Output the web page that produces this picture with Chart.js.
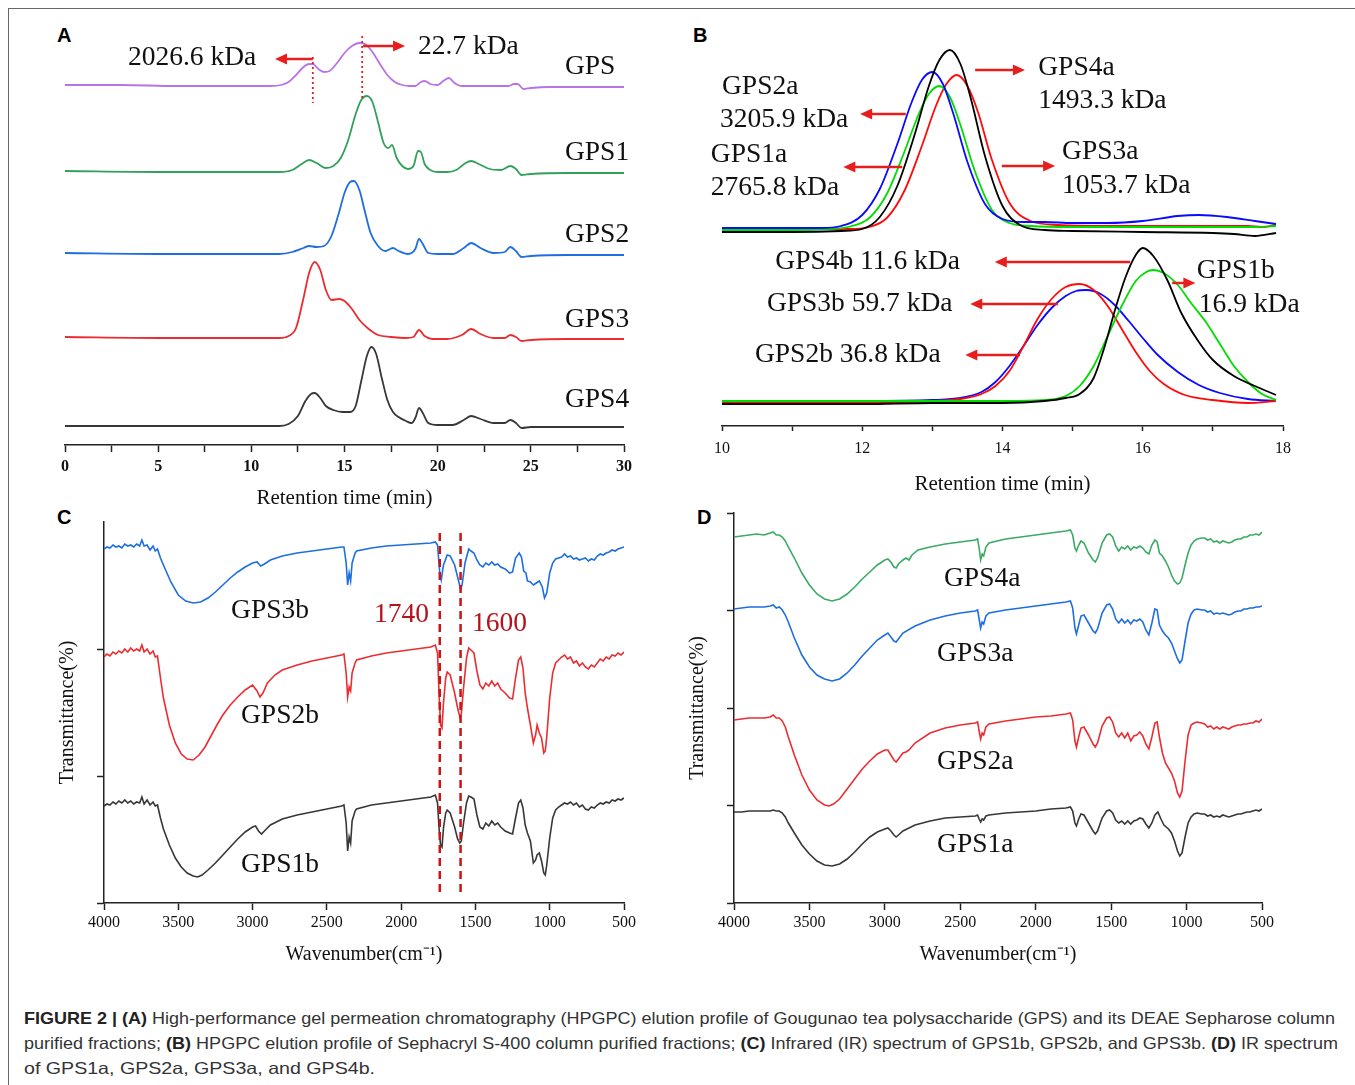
<!DOCTYPE html>
<html>
<head>
<meta charset="utf-8">
<title>Figure 2</title>
<script src="https://cdn.jsdelivr.net/npm/chart.js@4.4.1/dist/chart.umd.min.js"></script>
<style>
  html, body { margin: 0; padding: 0; background: #fff; }
  body { width: 1355px; height: 1085px; position: relative; overflow: hidden; font-family: "Liberation Sans", Arial, sans-serif; }
  .frame { position: absolute; left: 8px; top: 8px; width: 1400px; height: 1200px; border-left: 1px solid #666; border-top: 1px solid #666; }
  canvas { position: absolute; }
  .panel { position: absolute; font: bold 20px/20px "Liberation Sans", Arial, sans-serif; color: #000; }
  .caption { position: absolute; left: 24px; top: 1006px; font-size: 16.5px; line-height: 25px; color: #333; }
  .caption span { display: block; white-space: nowrap; width: max-content; transform-origin: 0 50%; }
  .caption b { color: #222; }
</style>
</head>
<body>
<div class="frame"></div>
<div class="panel" style="left:57px;top:25px">A</div>
<div class="panel" style="left:693px;top:25px">B</div>
<div class="panel" style="left:57px;top:507px">C</div>
<div class="panel" style="left:697px;top:507px">D</div>

<canvas id="chartA" width="610" height="505" style="left:40px;top:10px"></canvas>
<canvas id="chartB" width="640" height="490" style="left:690px;top:10px"></canvas>
<canvas id="chartC" width="610" height="480" style="left:40px;top:505px"></canvas>
<canvas id="chartD" width="620" height="480" style="left:670px;top:505px"></canvas>

<div class="caption">
  <span data-w="1311"><b>FIGURE 2 | (A)</b> High-performance gel permeation chromatography (HPGPC) elution profile of Gougunao tea polysaccharide (GPS) and its DEAE Sepharose column</span>
  <span data-w="1314">purified fractions; <b>(B)</b> HPGPC elution profile of Sephacryl S-400 column purified fractions; <b>(C)</b> Infrared (IR) spectrum of GPS1b, GPS2b, and GPS3b. <b>(D)</b> IR spectrum</span>
  <span data-w="351">of GPS1a, GPS2a, GPS3a, and GPS4b.</span>
</div>

<script>
/* global Chart */

// ---- A: HPGPC of GPS and DEAE fractions, [time (min), signal above baseline]
const namesA = ['GPS', 'GPS1', 'GPS2', 'GPS3', 'GPS4'];
const offsetsA = [359, 273, 191, 107, 19];
const gpsA = [[0,1],[3,1],[6,0],[9,0],[11,0],[11.6,1],[12.0,4],[12.4,11],[12.8,19],[13.1,22],[13.3,22],[13.6,17],[13.9,14],[14.2,15],[14.6,23],[15.0,33],[15.4,40],[15.8,43],[16.1,42],[16.5,34],[16.9,22],[17.3,11],[17.7,4],[18.1,1],[18.5,0],[18.8,0],[19.1,4],[19.3,5],[19.6,2],[20.0,1],[20.3,5],[20.6,8],[20.9,3],[21.3,0],[22,0],[23,0],[23.8,0],[24.1,2],[24.3,2],[24.6,-3],[25.0,-2],[26,-1],[28,-1],[30,-1]];
const gps1A = [[0,1],[5,0],[10,0],[11.5,0],[12.2,2],[12.7,8],[13.1,12],[13.5,9],[14.0,4],[14.4,6],[14.8,14],[15.2,32],[15.6,58],[15.9,72],[16.2,76],[16.5,70],[16.8,50],[17.1,29],[17.35,24],[17.55,27],[17.8,14],[18.1,6],[18.4,3],[18.7,6],[18.95,21],[19.1,20],[19.3,8],[19.6,2],[20.0,0],[20.5,0],[21.0,2],[21.5,9],[21.8,11],[22.2,8],[22.8,3],[23.4,2],[23.9,6],[24.2,3],[24.5,-3],[25,-2],[27,-1],[30,-1]];
const gps2A = [[0,1],[5,0],[10,0],[11.5,0],[12.2,2],[12.8,6],[13.1,8],[13.5,7],[13.9,8],[14.3,18],[14.7,41],[15.0,61],[15.3,72],[15.5,73],[15.8,64],[16.1,42],[16.4,21],[16.8,8],[17.2,3],[17.6,6],[17.9,3],[18.4,0],[18.8,5],[19.0,15],[19.2,10],[19.5,1],[20,0],[20.8,0],[21.4,6],[21.8,11],[22.3,6],[23,1],[23.6,2],[23.9,7],[24.2,3],[24.5,-3],[25,-2],[27,-1],[30,-1]];
const gps3A = [[0,1],[5,0],[10,0],[11.5,0],[12.0,2],[12.4,10],[12.8,40],[13.1,65],[13.4,76],[13.7,68],[14.0,48],[14.3,38],[14.7,39],[15.0,37],[15.4,29],[15.8,18],[16.3,9],[16.8,3],[17.5,1],[18.3,0],[18.7,1],[19.0,8],[19.3,2],[19.7,-1],[20.5,-1],[21.3,3],[21.8,9],[22.3,4],[23,0],[23.6,0],[23.9,3],[24.2,1],[24.5,-3],[25,-2],[27,-1],[30,-1]];
const gps4A = [[0,0],[5,0],[10,0],[11.5,0],[12.0,2],[12.5,10],[12.9,25],[13.2,32],[13.4,33],[13.7,28],[14.0,20],[14.4,16],[14.9,14],[15.3,14],[15.6,20],[15.9,45],[16.2,70],[16.45,79],[16.7,72],[17.0,48],[17.3,26],[17.6,14],[17.9,9],[18.3,5],[18.6,3],[18.8,8],[19.0,18],[19.2,13],[19.5,3],[20,1],[20.8,1],[21.4,6],[21.8,10],[22.3,7],[23,3],[23.6,3],[23.9,6],[24.2,3],[24.5,-2],[25,-1],[27,-1],[30,-1]];
const seriesA = [gpsA, gps1A, gps2A, gps3A, gps4A];
const colorsA = ['rgb(185,115,230)', 'rgb(50,160,90)', 'rgb(30,110,225)', 'rgb(235,45,50)', 'rgb(55,55,55)'];

// ---- B: Sephacryl S-400 fractions, [time (min), signal]
const namesB = ['GPS4a', 'GPS2a', 'GPS1a', 'GPS3a', 'GPS4b', 'GPS1b', 'GPS3b', 'GPS2b'];
const gps4aB = [[10,194],[11,194],[11.7,195],[12.0,197],[12.25,209],[12.5,240],[12.75,292],[12.95,340],[13.1,366],[13.25,376],[13.4,362],[13.55,327],[13.75,270],[14.0,220],[14.25,201],[14.6,196],[15,195],[16,194],[17,193],[17.3,192],[17.6,190],[17.9,193]];
const gps2aB = [[10,198],[11,198],[11.4,198],[11.7,200],[12.0,211],[12.25,237],[12.5,282],[12.7,323],[12.85,346],[13.0,354],[13.15,342],[13.3,312],[13.5,264],[13.75,222],[14.0,207],[14.3,204],[14.6,204],[15,203],[15.5,203],[16,205],[16.5,210],[16.8,211],[17.2,209],[17.6,205],[17.9,202]];
const gps1aB = [[10,196],[11,196],[11.5,197],[11.8,199],[12.1,208],[12.35,232],[12.6,274],[12.8,311],[12.95,332],[13.1,340],[13.25,329],[13.4,301],[13.6,256],[13.85,216],[14.1,203],[14.4,200],[15,199],[16,199],[17,199],[17.6,199],[17.9,200]];
const gps3aB = [[10,197],[11,197],[11.8,197],[12.1,199],[12.35,208],[12.6,235],[12.85,280],[13.05,320],[13.2,342],[13.35,351],[13.5,340],[13.65,314],[13.85,266],[14.1,223],[14.4,205],[14.8,201],[15.5,200],[16.5,200],[17.5,200],[17.7,199],[17.9,201]];
const gps4bB = [[10,22],[12,22],[13,23],[14,23],[14.6,25],[14.9,28],[15.1,32],[15.3,48],[15.45,78],[15.6,115],[15.75,148],[15.9,171],[16.0,178],[16.15,170],[16.35,146],[16.55,113],[16.8,84],[17.0,66],[17.3,50],[17.6,40],[17.9,31]];
const gps1bB = [[10,25],[13,25],[14,25],[14.6,26],[14.9,30],[15.1,40],[15.3,60],[15.5,90],[15.7,120],[15.9,145],[16.05,154],[16.15,156],[16.3,153],[16.5,141],[16.7,122],[16.9,104],[17.1,82],[17.3,60],[17.5,44],[17.7,32],[17.9,26]];
const gps3bB = [[10,24],[12,24],[13,25],[13.4,27],[13.7,32],[13.9,40],[14.1,55],[14.3,80],[14.5,107],[14.7,127],[14.9,139],[15.1,142],[15.3,136],[15.5,120],[15.7,97],[15.9,74],[16.1,55],[16.3,42],[16.6,31],[17.0,26],[17.5,23],[17.9,25]];
const gps2bB = [[10,25],[12,25],[13,26],[13.4,28],[13.7,34],[13.9,44],[14.1,60],[14.3,80],[14.5,101],[14.7,118],[14.9,130],[15.05,135],[15.2,136],[15.4,132],[15.6,121],[15.8,105],[16.0,88],[16.2,72],[16.5,54],[16.8,41],[17.1,33],[17.5,27],[17.9,25]];
const seriesB = [gps4aB, gps2aB, gps1aB, gps3aB, gps4bB, gps1bB, gps3bB, gps2bB];
const colorsB = ['#000000', '#0a0aff', '#00dd00', '#ff0a0a', '#000000', '#00dd00', '#ff0a0a', '#0a0aff'];

// ---- C: IR of GPS1b, GPS2b, GPS3b, [wavenumber, transmittance offset]
const namesC = ['GPS3b', 'GPS2b', 'GPS1b'];
const gps3bIR = [[4000,354],[3980,356],[3960,355],[3940,358],[3920,356],[3900,357],[3880,355],[3860,359],[3840,357],[3820,358],[3800,356],[3780,359],[3760,357],[3745,363],[3730,357],[3710,358],[3690,353],[3670,357],[3655,352],[3640,354],[3620,345],[3600,338],[3550,321],[3500,308],[3450,302],[3400,300],[3350,301],[3300,305],[3250,311],[3200,318],[3150,325],[3100,331],[3050,336],[3000,340],[2970,341],[2945,337],[2920,339],[2880,343],[2800,347],[2700,350],[2600,352],[2500,354],[2400,356],[2385,356],[2370,340],[2360,318],[2350,330],[2340,322],[2330,340],[2310,350],[2300,352],[2200,355],[2100,357],[2000,358],[1900,359],[1800,360],[1770,361],[1755,358],[1740,330],[1730,323],[1715,338],[1690,348],[1670,347],[1640,338],[1620,326],[1600,314],[1590,318],[1570,340],[1545,354],[1530,352],[1510,350],[1490,343],[1470,338],[1450,336],[1430,340],[1410,338],[1390,341],[1370,338],[1350,339],[1330,336],[1300,334],[1270,330],[1250,331],[1230,345],[1205,350],[1190,346],[1175,332],[1160,330],[1150,322],[1130,321],[1110,318],[1090,320],[1070,322],[1050,316],[1035,305],[1020,310],[1000,330],[980,340],[960,344],[940,345],[920,346],[900,349],[880,346],[860,347],[840,344],[820,345],[800,343],[780,344],[760,345],[740,342],[720,344],[700,343],[680,347],[660,349],[640,348],[620,350],[600,351],[580,353],[560,352],[540,354],[520,355],[500,356]];
const gps2bIR = [[4000,246],[3980,249],[3960,247],[3940,251],[3920,249],[3900,252],[3880,250],[3860,254],[3840,251],[3820,255],[3800,252],[3780,254],[3760,252],[3745,258],[3730,251],[3710,254],[3690,249],[3670,252],[3655,246],[3640,247],[3620,225],[3600,205],[3560,178],[3520,160],[3480,149],[3440,144],[3400,143],[3360,148],[3320,156],[3280,167],[3240,178],[3200,188],[3150,198],[3100,206],[3050,213],[3000,218],[2970,212],[2950,206],[2930,210],[2900,220],[2850,228],[2800,233],[2700,238],[2600,242],[2500,245],[2400,248],[2385,249],[2370,230],[2360,206],[2350,216],[2340,212],[2330,230],[2310,240],[2300,243],[2200,247],[2100,250],[2000,252],[1900,254],[1800,256],[1770,258],[1755,250],[1745,210],[1735,178],[1725,175],[1715,200],[1700,225],[1690,231],[1670,228],[1640,210],[1620,195],[1605,186],[1595,189],[1580,215],[1560,245],[1545,255],[1530,253],[1510,250],[1490,232],[1470,218],[1450,214],[1430,220],[1410,217],[1390,222],[1370,217],[1350,220],[1330,214],[1300,210],[1270,205],[1250,204],[1230,225],[1210,243],[1195,246],[1180,235],[1165,210],[1150,195],[1130,178],[1110,160],[1095,168],[1085,178],[1070,170],[1055,165],[1040,150],[1030,152],[1020,166],[1000,205],[980,230],[960,240],[940,243],[920,246],[900,248],[880,244],[860,246],[840,240],[820,242],[800,237],[780,240],[760,236],[740,234],[720,238],[700,236],[680,240],[660,244],[640,242],[620,246],[600,244],[580,248],[560,247],[540,250],[520,248],[500,251]];
const gps1bIR = [[4000,97],[3980,99],[3960,98],[3940,101],[3920,99],[3900,102],[3880,100],[3860,103],[3840,100],[3820,102],[3800,99],[3780,101],[3760,100],[3745,106],[3730,99],[3710,103],[3690,98],[3670,101],[3655,97],[3640,98],[3620,85],[3600,74],[3560,58],[3520,45],[3480,36],[3440,30],[3400,27],[3370,26],[3340,28],[3300,33],[3250,40],[3200,48],[3150,56],[3100,64],[3050,71],[3000,76],[2980,77],[2960,72],[2940,69],[2920,72],[2880,78],[2800,84],[2700,88],[2600,91],[2500,94],[2400,97],[2385,98],[2370,80],[2360,52],[2350,66],[2340,60],[2330,82],[2310,92],[2300,94],[2200,98],[2100,100],[2000,102],[1900,104],[1800,106],[1770,108],[1755,100],[1745,75],[1735,58],[1725,56],[1715,75],[1700,90],[1690,93],[1670,90],[1640,76],[1620,64],[1605,60],[1595,62],[1580,80],[1560,100],[1545,107],[1530,106],[1510,104],[1490,88],[1470,76],[1450,74],[1430,80],[1410,77],[1390,82],[1370,78],[1350,80],[1330,76],[1300,72],[1270,70],[1250,69],[1230,85],[1210,100],[1195,103],[1180,95],[1165,78],[1150,70],[1130,62],[1110,40],[1095,43],[1085,48],[1070,50],[1055,42],[1040,30],[1030,28],[1020,38],[1000,65],[980,85],[960,93],[940,96],[920,98],[900,100],[880,99],[860,101],[840,98],[820,100],[800,96],[780,98],[760,94],[740,93],[720,96],[700,95],[680,98],[660,100],[640,99],[620,101],[600,100],[580,103],[560,102],[540,104],[520,103],[500,105]];
const seriesC = [gps3bIR, gps2bIR, gps1bIR];
const colorsC = ['rgb(30,110,225)', 'rgb(235,45,50)', 'rgb(55,55,55)'];

// ---- D: IR of GPS1a, GPS2a, GPS3a, GPS4a
const namesD = ['GPS4a', 'GPS3a', 'GPS2a', 'GPS1a'];
const gps4aIR = [[4000,366],[3950,367],[3900,368],[3850,369],[3800,368],[3760,370],[3740,371],[3720,368],[3700,368],[3680,366],[3660,362],[3640,356],[3600,345],[3550,330],[3500,318],[3450,309],[3400,304],[3350,302],[3300,304],[3250,309],[3200,316],[3150,324],[3100,331],[3050,338],[3000,343],[2980,344],[2960,341],[2940,336],[2925,335],[2910,339],[2880,343],[2860,345],[2840,343],[2820,348],[2780,353],[2700,356],[2600,359],[2500,361],[2400,363],[2385,364],[2375,355],[2365,343],[2355,349],[2345,347],[2330,356],[2310,360],[2200,364],[2100,366],[2000,368],[1900,370],[1800,372],[1770,373],[1755,368],[1740,355],[1730,352],[1715,358],[1700,362],[1680,360],[1650,350],[1620,343],[1605,341],[1590,345],[1560,360],[1530,368],[1510,369],[1490,366],[1470,357],[1450,352],[1430,356],[1410,354],[1390,357],[1370,353],[1350,356],[1330,355],[1310,357],[1290,355],[1270,351],[1250,349],[1230,358],[1210,363],[1195,361],[1180,350],[1160,347],[1140,342],[1120,336],[1100,328],[1080,322],[1060,319],[1045,320],[1030,325],[1010,338],[990,350],[970,358],[950,362],[930,364],[900,365],[880,365],[860,363],[840,364],[820,361],[800,362],[780,360],[760,362],[740,361],[720,360],[700,361],[680,363],[660,364],[640,364],[620,366],[600,366],[580,368],[560,368],[540,369],[520,368],[500,371]];
const gps3aIR = [[4000,294],[3950,295],[3900,296],[3850,296],[3800,296],[3760,297],[3740,298],[3720,295],[3700,296],[3680,293],[3660,288],[3640,281],[3600,265],[3550,248],[3500,236],[3450,228],[3400,224],[3350,222],[3300,224],[3250,230],[3200,238],[3150,247],[3100,255],[3050,263],[3000,268],[2980,270],[2960,266],[2940,262],[2925,261],[2910,264],[2880,270],[2800,277],[2700,283],[2600,287],[2500,290],[2400,292],[2385,293],[2375,284],[2365,275],[2355,281],[2345,279],[2330,287],[2310,290],[2200,293],[2100,295],[2000,297],[1900,299],[1800,301],[1770,302],[1755,295],[1740,275],[1730,269],[1715,278],[1700,287],[1680,288],[1650,280],[1620,272],[1605,270],[1590,274],[1560,290],[1530,298],[1510,299],[1490,294],[1470,284],[1450,280],[1430,284],[1410,280],[1390,283],[1370,279],[1350,283],[1330,282],[1310,284],[1290,281],[1270,273],[1250,268],[1230,280],[1210,294],[1195,293],[1180,278],[1160,272],[1140,268],[1120,265],[1100,260],[1080,252],[1060,244],[1045,240],[1030,243],[1010,262],[990,280],[970,289],[950,293],[930,294],[900,293],[880,293],[860,291],[840,292],[820,289],[800,290],[780,289],[760,290],[740,289],[720,288],[700,289],[680,291],[660,292],[640,292],[620,294],[600,294],[580,295],[560,295],[540,296],[520,296],[500,297]];
const gps2aIR = [[4000,183],[3950,184],[3900,185],[3850,185],[3800,185],[3760,186],[3740,188],[3720,185],[3700,185],[3680,182],[3660,176],[3640,166],[3600,148],[3550,128],[3500,113],[3450,103],[3400,98],[3370,97],[3340,99],[3300,104],[3250,114],[3200,124],[3150,134],[3100,142],[3050,149],[3000,153],[2980,153],[2960,148],[2940,143],[2925,141],[2910,144],[2880,150],[2860,151],[2840,153],[2800,160],[2700,170],[2600,175],[2500,178],[2400,180],[2385,181],[2375,172],[2365,164],[2355,170],[2345,168],[2330,176],[2310,179],[2200,182],[2100,184],[2000,186],[1900,187],[1800,189],[1770,190],[1755,183],[1740,162],[1730,156],[1715,166],[1700,175],[1680,176],[1650,168],[1620,159],[1605,156],[1590,160],[1560,177],[1530,185],[1510,186],[1490,181],[1470,170],[1450,166],[1430,170],[1410,165],[1390,170],[1370,162],[1350,167],[1330,168],[1310,171],[1290,167],[1270,159],[1250,154],[1230,166],[1210,180],[1195,181],[1180,166],[1160,150],[1140,140],[1120,135],[1100,130],[1080,122],[1060,110],[1045,106],[1030,112],[1010,142],[990,168],[970,178],[950,180],[930,181],[900,180],[880,179],[860,176],[840,177],[820,174],[800,176],[780,174],[760,176],[740,175],[720,174],[700,176],[680,177],[660,178],[640,178],[620,179],[600,179],[580,180],[560,180],[540,182],[520,181],[500,184]];
const gps1aIR = [[4000,91],[3950,91],[3900,92],[3850,92],[3800,92],[3760,92],[3740,93],[3720,92],[3700,92],[3680,90],[3660,86],[3640,80],[3600,70],[3550,58],[3500,49],[3450,42],[3400,38],[3350,37],[3300,39],[3250,44],[3200,51],[3150,59],[3100,66],[3050,71],[3000,74],[2980,75],[2960,72],[2940,68],[2925,66],[2910,68],[2880,72],[2800,78],[2700,82],[2600,85],[2500,86],[2400,87],[2385,88],[2375,84],[2365,81],[2355,84],[2345,83],[2330,87],[2310,88],[2200,90],[2100,91],[2000,92],[1900,94],[1800,95],[1770,96],[1755,92],[1740,80],[1730,77],[1715,84],[1700,89],[1680,88],[1650,80],[1620,72],[1605,69],[1590,72],[1560,85],[1530,92],[1510,93],[1490,90],[1470,83],[1450,80],[1430,82],[1410,79],[1390,82],[1370,79],[1350,82],[1330,83],[1310,85],[1290,84],[1270,79],[1250,75],[1230,80],[1210,88],[1190,91],[1170,84],[1150,78],[1120,74],[1100,70],[1080,62],[1060,52],[1045,47],[1030,50],[1010,66],[990,80],[970,86],[950,89],[930,90],[900,89],[880,89],[860,87],[840,88],[820,86],[800,87],[780,86],[760,88],[740,87],[720,86],[700,87],[680,88],[660,89],[640,89],[620,90],[600,91],[580,91],[560,92],[540,93],[520,92],[500,94]];
const seriesD = [gps4aIR, gps3aIR, gps2aIR, gps1aIR];
const colorsD = ['rgb(60,170,100)', 'rgb(30,110,225)', 'rgb(235,45,50)', 'rgb(55,55,55)'];

const SERIF = '"Liberation Serif", "Times New Roman", serif';
const ARROW_RED = 'rgb(232,30,30)';

// draws labels, arrows and marker lines in data coordinates
const marksPlugin = {
  id: 'marks',
  afterDraw(chart, args, opts) {
    const { ctx } = chart;
    const xs = chart.scales.x;
    const ys = chart.scales.y;
    ctx.save();
    (opts.vlines || []).forEach((v) => {
      const px = xs.getPixelForValue(v.x);
      ctx.strokeStyle = v.color;
      ctx.lineWidth = v.width;
      ctx.setLineDash(v.dash);
      ctx.beginPath();
      ctx.moveTo(px, ys.getPixelForValue(v.y0));
      ctx.lineTo(px, ys.getPixelForValue(v.y1));
      ctx.stroke();
    });
    ctx.setLineDash([]);
    (opts.arrows || []).forEach((a) => {
      const x0 = xs.getPixelForValue(a.from);
      const x1 = xs.getPixelForValue(a.to);
      const py = ys.getPixelForValue(a.y);
      const dir = Math.sign(x1 - x0);
      ctx.strokeStyle = ARROW_RED;
      ctx.fillStyle = ARROW_RED;
      ctx.lineWidth = 2.5;
      ctx.beginPath();
      ctx.moveTo(x0, py);
      ctx.lineTo(x1 - dir * 8, py);
      ctx.stroke();
      ctx.beginPath();
      ctx.moveTo(x1, py);
      ctx.lineTo(x1 - dir * 12, py - 5.5);
      ctx.lineTo(x1 - dir * 12, py + 5.5);
      ctx.closePath();
      ctx.fill();
    });
    ctx.textBaseline = 'middle';
    ctx.textAlign = 'left';
    (opts.texts || []).forEach((t) => {
      ctx.font = `27.5px ${SERIF}`;
      ctx.fillStyle = t.color || '#111';
      ctx.fillText(t.text, xs.getPixelForValue(t.x), ys.getPixelForValue(t.y));
    });
    ctx.restore();
  },
};

function xAxis(min, max, step, opt) {
  return {
    type: 'linear',
    min,
    max,
    reverse: !!opt.reverse,
    afterFit: (s) => { s.height = opt.height; },
    ticks: {
      stepSize: step,
      autoSkip: false,
      maxRotation: 0,
      padding: opt.pad,
      color: '#111',
      font: { family: SERIF, size: 16, weight: opt.bold ? 'bold' : 'normal' },
      callback: (v) => (v % opt.every === 0 ? v : ''),
    },
    grid: { drawOnChartArea: false, tickLength: opt.tick, tickColor: '#222', tickWidth: 1.5 },
    border: { color: '#222', width: 1.5 },
    title: {
      display: true,
      text: opt.title,
      color: '#111',
      font: { family: SERIF, size: opt.titleSize },
      padding: { top: 0, bottom: opt.titlePad },
    },
  };
}

function irYAxis(max, step, hideTop) {
  return {
    min: 0,
    max,
    afterFit: (s) => { s.width = 64; },
    ticks: { stepSize: step, padding: 0, callback: () => '' },
    grid: {
      drawOnChartArea: false,
      tickLength: 7,
      tickWidth: 1.5,
      tickColor: (c) => (hideTop && c.tick && c.tick.value >= max ? 'rgba(0,0,0,0)' : '#222'),
    },
    border: { color: '#222', width: 1.5 },
    title: {
      display: true,
      text: 'Transmittance(%)',
      color: '#111',
      font: { family: SERIF, size: 20 },
      padding: { top: 16, bottom: 0 },
    },
  };
}

function lineSets(names, series, colors, smooth, width, offsets) {
  return names.map((n, i) => ({
    label: n,
    data: series[i].map((p) => [p[0], p[1] + (offsets ? offsets[i] : 0)]),
    borderColor: colors[i],
    borderWidth: width,
    pointRadius: 0,
    fill: false,
    tension: 0,
    cubicInterpolationMode: smooth ? 'monotone' : 'default',
  }));
}

const common = {
  responsive: false,
  animation: false,
  devicePixelRatio: 1,
  events: [],
};

new Chart(document.getElementById('chartA'), {
  type: 'line',
  data: { datasets: lineSets(namesA, seriesA, colorsA, true, 1.8, offsetsA) },
  options: {
    ...common,
    layout: { padding: { left: 25, right: 26, top: 18, bottom: 0 } },
    plugins: {
      legend: { display: false },
      tooltip: { enabled: false },
      marks: {
        vlines: [
          { x: 13.3, y0: 388, y1: 342, color: 'rgb(230,30,30)', width: 1.8, dash: [2, 3] },
          { x: 15.95, y0: 409, y1: 344, color: 'rgb(230,30,30)', width: 1.8, dash: [2, 3] },
        ],
        arrows: [
          { from: 13.3, to: 11.27, y: 386 },
          { from: 16.0, to: 18.25, y: 399 },
        ],
        texts: [
          { text: '2026.6 kDa', x: 3.38, y: 387 },
          { text: '22.7 kDa', x: 18.94, y: 398 },
          { text: 'GPS', x: 26.83, y: 378 },
          { text: 'GPS1', x: 26.83, y: 292 },
          { text: 'GPS2', x: 26.83, y: 210 },
          { text: 'GPS3', x: 26.83, y: 125 },
          { text: 'GPS4', x: 26.83, y: 45 },
        ],
      },
    },
    scales: {
      x: xAxis(0, 30, 2.5, { every: 5, bold: true, height: 70, pad: 5, tick: 7, title: 'Retention time (min)', titleSize: 21, titlePad: 4 }),
      y: { display: false, min: 0, max: 417 },
    },
  },
  plugins: [marksPlugin],
});

new Chart(document.getElementById('chartB'), {
  type: 'line',
  data: { datasets: lineSets(namesB, seriesB, colorsB, true, 1.8) },
  options: {
    ...common,
    layout: { padding: { left: 32, right: 47, top: 18, bottom: 0 } },
    plugins: {
      legend: { display: false },
      tooltip: { enabled: false },
      marks: {
        arrows: [
          { from: 12.62, to: 11.97, y: 312 },
          { from: 12.57, to: 11.73, y: 259 },
          { from: 13.61, to: 14.32, y: 356 },
          { from: 13.99, to: 14.75, y: 260 },
          { from: 15.82, to: 13.89, y: 164 },
          { from: 14.79, to: 13.54, y: 122 },
          { from: 14.25, to: 13.47, y: 71 },
          { from: 16.42, to: 16.75, y: 143 },
        ],
        texts: [
          { text: 'GPS2a', x: 10.0, y: 339 },
          { text: '3205.9 kDa', x: 9.97, y: 306 },
          { text: 'GPS1a', x: 9.84, y: 271 },
          { text: '2765.8 kDa', x: 9.84, y: 238 },
          { text: 'GPS4a', x: 14.51, y: 358 },
          { text: '1493.3 kDa', x: 14.51, y: 325 },
          { text: 'GPS3a', x: 14.85, y: 274 },
          { text: '1053.7 kDa', x: 14.85, y: 240 },
          { text: 'GPS4b 11.6 kDa', x: 10.76, y: 164 },
          { text: 'GPS3b 59.7 kDa', x: 10.64, y: 122 },
          { text: 'GPS2b 36.8 kDa', x: 10.47, y: 71 },
          { text: 'GPS1b', x: 16.77, y: 155 },
          { text: '16.9 kDa', x: 16.8, y: 121 },
        ],
      },
    },
    scales: {
      x: xAxis(10, 18, 1, { every: 2, bold: false, height: 74, pad: 8, tick: 5, title: 'Retention time (min)', titleSize: 21, titlePad: 3 }),
      y: { display: false, min: 0, max: 398 },
    },
  },
  plugins: [marksPlugin],
});

new Chart(document.getElementById('chartC'), {
  type: 'line',
  data: { datasets: lineSets(namesC, seriesC, colorsC, false, 1.6) },
  options: {
    ...common,
    layout: { padding: { left: 0, right: 26, top: 17, bottom: 0 } },
    plugins: {
      legend: { display: false },
      tooltip: { enabled: false },
      marks: {
        vlines: [
          { x: 1740, y0: 370, y1: 11, color: 'rgb(200,20,20)', width: 2.5, dash: [8, 5] },
          { x: 1600, y0: 370, y1: 11, color: 'rgb(200,20,20)', width: 2.5, dash: [8, 5] },
        ],
        texts: [
          { text: 'GPS3b', x: 3145, y: 292 },
          { text: 'GPS2b', x: 3078, y: 187 },
          { text: 'GPS1b', x: 3078, y: 38 },
          { text: '1740', x: 2183, y: 288, color: 'rgb(180,20,30)' },
          { text: '1600', x: 1523, y: 279, color: 'rgb(180,20,30)' },
        ],
      },
    },
    scales: {
      x: xAxis(500, 4000, 500, { every: 500, reverse: true, bold: false, height: 82, pad: 3, tick: 7, title: 'Wavenumber(cm⁻¹)', titleSize: 20, titlePad: 18 }),
      y: irYAxis(381, 127, true),
    },
  },
  plugins: [marksPlugin],
});

new Chart(document.getElementById('chartD'), {
  type: 'line',
  data: { datasets: lineSets(namesD, seriesD, colorsD, false, 1.6) },
  options: {
    ...common,
    layout: { padding: { left: 0, right: 28, top: 8, bottom: 0 } },
    plugins: {
      legend: { display: false },
      tooltip: { enabled: false },
      marks: {
        texts: [
          { text: 'GPS4a', x: 2608, y: 324 },
          { text: 'GPS3a', x: 2654, y: 249 },
          { text: 'GPS2a', x: 2654, y: 141 },
          { text: 'GPS1a', x: 2654, y: 58 },
        ],
      },
    },
    scales: {
      x: xAxis(500, 4000, 500, { every: 500, reverse: true, bold: false, height: 82, pad: 3, tick: 7, title: 'Wavenumber(cm⁻¹)', titleSize: 20, titlePad: 18 }),
      y: irYAxis(390, 97.5, false),
    },
  },
  plugins: [marksPlugin],
});

// squeeze caption lines to the widths they have in the figure
document.querySelectorAll('.caption span').forEach((el) => {
  const target = Number(el.dataset.w);
  const w = el.getBoundingClientRect().width;
  if (w > 0) el.style.transform = `scaleX(${target / w})`;
});
</script>
</body>
</html>
